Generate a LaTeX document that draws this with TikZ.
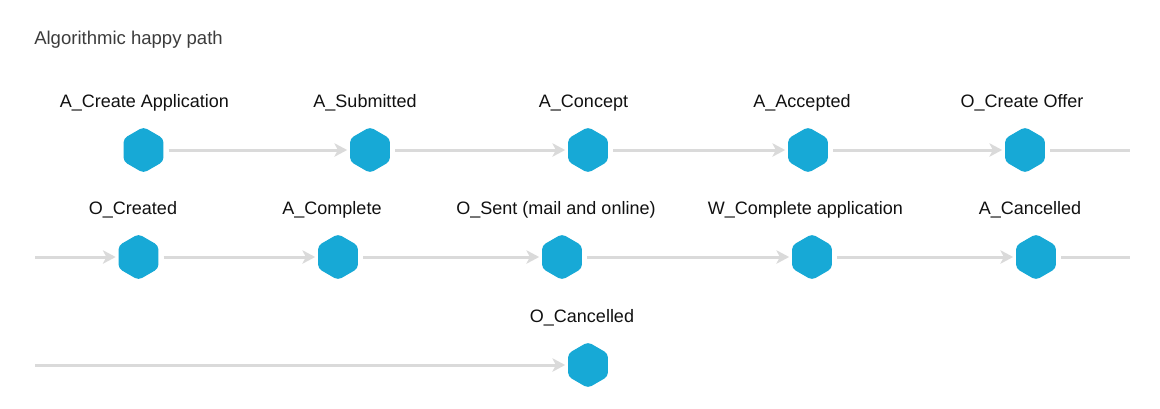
\documentclass[tikz,border=0pt]{standalone}
\usepackage{fontspec}
\setmainfont{Liberation Sans}
\usetikzlibrary{shapes.geometric,arrows.meta}
\definecolor{hexblue}{HTML}{17A9D6}
\definecolor{edgegrey}{HTML}{DADADA}
\definecolor{titlegrey}{HTML}{3C3C3C}
\definecolor{labelblack}{HTML}{111111}
\begin{document}
\begin{tikzpicture}[x=0.75pt,y=-0.75pt,
  event/.style={regular polygon, regular polygon sides=6, shape border rotate=90,
    minimum size=34.5pt, inner sep=0pt, fill=hexblue, draw=none, rounded corners=3pt},
  evlabel/.style={font=\fontsize{13.5pt}{16pt}\selectfont, text=labelblack, inner sep=0pt},
  flow/.style={draw=edgegrey, line width=2.25pt, shorten <=3.75pt, shorten >=2pt,
    -{Stealth[length=9.5pt,width=10pt,inset=2.5pt]}},
  tail/.style={draw=edgegrey, line width=2.25pt, shorten <=3.75pt}]
\fill[white] (0,0) rectangle (1160,408);
\useasboundingbox (0,0) rectangle (1160,408);

\node[anchor=west, font=\fontsize{13.9pt}{16pt}\selectfont, text=titlegrey, inner sep=0pt] (title) at (34,40) {Algorithmic happy path};

% row 1
\node[event] (h1) at (143.5,150) {};
\node[event] (h2) at (370,150) {};
\node[event] (h3) at (588,150) {};
\node[event] (h4) at (808,150) {};
\node[event] (h5) at (1025,150) {};
\node[evlabel] (l1) at (144.5,103) {A\_Create Application};
\node[evlabel] (l2) at (365,103) {A\_Submitted};
\node[evlabel] (l3) at (583.5,103) {A\_Concept};
\node[evlabel] (l4) at (802,103) {A\_Accepted};
\node[evlabel] (l5) at (1022,103) {O\_Create Offer};

% row 2
\node[event] (h6) at (138.5,257) {};
\node[event] (h7) at (338,257) {};
\node[event] (h8) at (562,257) {};
\node[event] (h9) at (812,257) {};
\node[event] (h10) at (1036,257) {};
\node[evlabel] (l6) at (133,210) {O\_Created};
\node[evlabel] (l7) at (332,210) {A\_Complete};
\node[evlabel] (l8) at (556,210) {O\_Sent (mail and online)};
\node[evlabel] (l9) at (805.5,210) {W\_Complete application};
\node[evlabel] (l10) at (1030,210) {A\_Cancelled};

% row 3
\node[event] (h11) at (588,365) {};
\node[evlabel] (l11) at (582,318) {O\_Cancelled};

% wrap-around ends
\coordinate (r1end) at (1130,150);
\coordinate (r2start) at (35,257);
\coordinate (r2end) at (1130,257);
\coordinate (r3start) at (35,365);

% connectors
\draw[flow] (h1) -- (h2);
\draw[flow] (h2) -- (h3);
\draw[flow] (h3) -- (h4);
\draw[flow] (h4) -- (h5);
\draw[tail] (h5) -- (r1end);
\draw[flow, shorten <=0pt] (r2start) -- (h6);
\draw[flow] (h6) -- (h7);
\draw[flow] (h7) -- (h8);
\draw[flow] (h8) -- (h9);
\draw[flow] (h9) -- (h10);
\draw[tail] (h10) -- (r2end);
\draw[flow, shorten <=0pt] (r3start) -- (h11);
\end{tikzpicture}
\end{document}
